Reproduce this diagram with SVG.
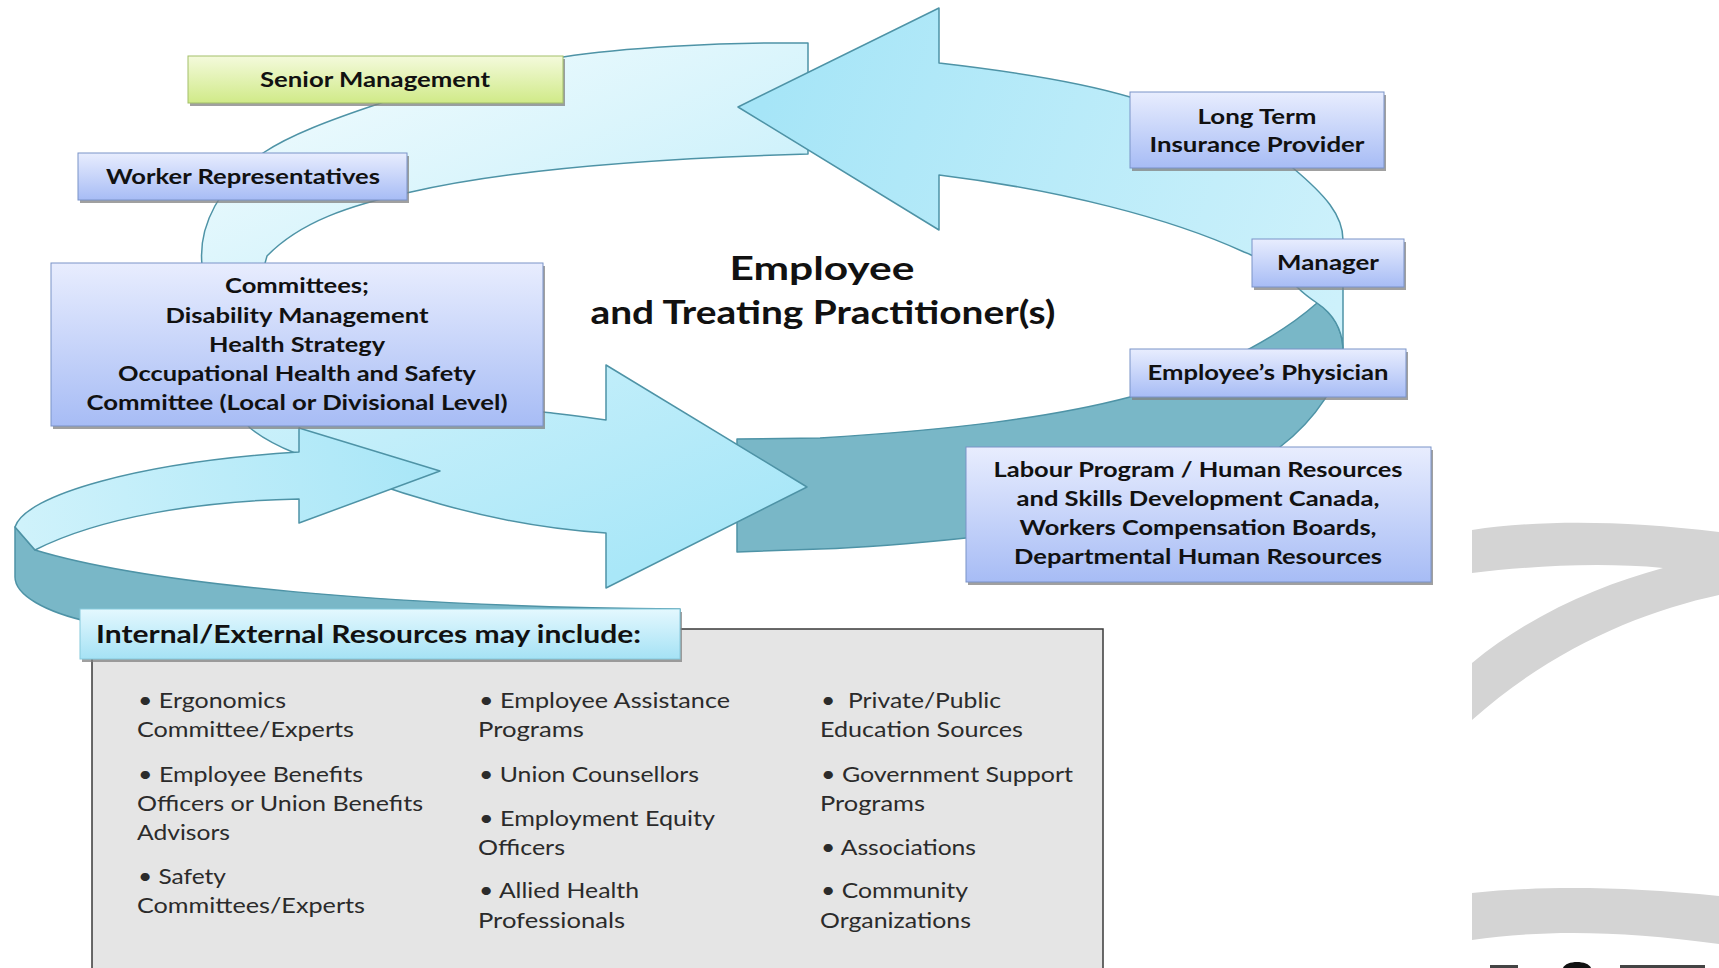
<svg xmlns="http://www.w3.org/2000/svg" width="1719" height="968" viewBox="0 0 1719 968">
<defs>
<linearGradient id="gBlue" x1="0" y1="0" x2="0" y2="1"><stop offset="0" stop-color="#e8edfe"/><stop offset="1" stop-color="#a7bcf5"/></linearGradient>
<linearGradient id="gGreen" x1="0" y1="0" x2="0" y2="1"><stop offset="0" stop-color="#f4fadc"/><stop offset="1" stop-color="#d0ea88"/></linearGradient>
<linearGradient id="gHead" x1="0" y1="0" x2="0" y2="1"><stop offset="0" stop-color="#e4f8fe"/><stop offset="1" stop-color="#a5e2f5"/></linearGradient>
<linearGradient id="gBig" gradientUnits="userSpaceOnUse" x1="450" y1="60" x2="650" y2="560"><stop offset="0" stop-color="#e9f9fd"/><stop offset="1" stop-color="#a9e7f8"/></linearGradient>
<linearGradient id="gTop" gradientUnits="userSpaceOnUse" x1="760" y1="110" x2="1340" y2="300"><stop offset="0" stop-color="#a6e5f7"/><stop offset="1" stop-color="#cdf1fb"/></linearGradient>
<linearGradient id="gSmall" gradientUnits="userSpaceOnUse" x1="20" y1="520" x2="440" y2="470"><stop offset="0" stop-color="#cff2fb"/><stop offset="1" stop-color="#a8e6f7"/></linearGradient>
</defs>
<style>
.band{stroke:#4e93a6;stroke-width:1.5;stroke-linejoin:round}
.teal{fill:#79b7c7}
.box{fill:url(#gBlue);stroke:#7a93c8;stroke-width:1}
.shadow{fill:#808080;opacity:.75}
.lbl{font-family:Lato,"Liberation Sans",sans-serif;font-weight:bold;font-size:21px;fill:#111;text-anchor:middle}
.title{font-family:Lato,"Liberation Sans",sans-serif;font-weight:bold;font-size:32px;fill:#111;text-anchor:middle}
.li{font-family:Lato,"Liberation Sans",sans-serif;font-size:21px;fill:#2b2b2b}
.wm{fill:#d4d4d4}
</style>
<rect width="1719" height="968" fill="#ffffff"/>

<!-- watermark -->
<g id="watermark">
<path class="wm" d="M1472,530 C1540,520 1620,520 1719,532 L1719,595 C1640,612 1550,650 1472,720 L1472,663 C1530,615 1600,585 1663,568 C1600,562 1530,566 1472,573 Z"/>
<path class="wm" d="M1472,893 C1540,886 1620,886 1719,896 L1719,944 C1620,930 1540,930 1472,940 Z"/>
<rect x="1490" y="965" width="28" height="3" fill="#444"/>
<path d="M1563,968 C1566,960 1588,960 1591,968 Z" fill="#111"/>
<rect x="1620" y="965" width="85" height="3" fill="#444"/>
</g>

<g id="connectors">
<!-- teal back band (bottom right) -->
<path class="band teal" d="M737,439 L820,438 C950,430 1050,418 1130,397 C1190,380 1270,345 1317,303 C1335,315 1342,330 1343,348 C1343,380 1315,420 1280,447 C1200,505 1060,530 966,538 C900,545 850,548 820,549 L737,552 Z"/>
<!-- big band with right-pointing arrowhead -->
<path class="band" fill="url(#gBig)" d="M808,43 C720,42 620,48 563,57 C480,70 420,88 378,104 C330,120 290,135 263,153 C220,185 198,225 202,265 C206,330 220,395 250,428 C265,440 280,447 295,453 C340,472 390,490 440,504 C500,521 560,530 606,533 L606,588 L807,487 L606,365 L606,420 C580,416 560,414 543,412 C380,400 240,330 267,256 C300,222 350,205 411,192 C480,176 600,160 808,154 Z"/>
<!-- top band with left-pointing arrowhead -->
<path class="band" fill="url(#gTop)" d="M738,107 L939,8 L939,63 C1000,70 1080,82 1130,97 C1200,115 1270,145 1293,168 C1325,195 1343,215 1343,240 L1343,348 C1342,330 1335,315 1317,303 C1305,295 1300,290 1297,287 C1280,270 1260,258 1244,252 C1170,218 1060,190 939,175 L939,230 Z"/>
<!-- small loop teal side -->
<path class="band teal" d="M15,527 L35,550 C150,585 400,607 680,609 L680,640 L90,622 C45,612 15,595 15,577 Z"/>
<!-- small loop arrow -->
<path class="band" fill="url(#gSmall)" d="M299,452 L299,428 L440,471 L299,523 L299,499 C200,501 100,517 35,550 L15,527 C25,495 140,462 299,452 Z"/>
</g>

<g id="senior-management">
<rect class="shadow" x="190" y="59" width="375" height="47"/>
<rect x="188" y="56" width="375" height="47" fill="url(#gGreen)" stroke="#a3bf6a" stroke-width="1"/>
<text class="lbl" x="375" y="87" textLength="230" lengthAdjust="spacingAndGlyphs">Senior Management</text>
</g>

<g id="worker-representatives">
<rect class="shadow" x="80" y="156" width="329" height="47"/>
<rect class="box" x="78" y="153" width="329" height="47"/>
<text class="lbl" x="243" y="184" textLength="274" lengthAdjust="spacingAndGlyphs">Worker Representatives</text>
</g>

<g id="committees">
<rect class="shadow" x="53" y="266" width="492" height="163"/>
<rect class="box" x="51" y="263" width="492" height="163"/>
<text class="lbl" x="297" y="293" textLength="144" lengthAdjust="spacingAndGlyphs">Committees;</text>
<text class="lbl" x="297" y="323" textLength="263" lengthAdjust="spacingAndGlyphs">Disability Management</text>
<text class="lbl" x="297" y="352" textLength="176" lengthAdjust="spacingAndGlyphs">Health Strategy</text>
<text class="lbl" x="297" y="381" textLength="358" lengthAdjust="spacingAndGlyphs">Occupational Health and Safety</text>
<text class="lbl" x="297" y="410" textLength="421" lengthAdjust="spacingAndGlyphs">Committee (Local or Divisional Level)</text>
</g>

<g id="employee">
<text class="title" x="822" y="280" textLength="185" lengthAdjust="spacingAndGlyphs">Employee</text>
<text class="title" x="823" y="324" textLength="465" lengthAdjust="spacingAndGlyphs">and Treating Practitioner(s)</text>
</g>

<g id="long-term-insurance">
<rect class="shadow" x="1132" y="95" width="254" height="76"/>
<rect class="box" x="1130" y="92" width="254" height="76"/>
<text class="lbl" x="1257" y="124" textLength="119" lengthAdjust="spacingAndGlyphs">Long Term</text>
<text class="lbl" x="1257" y="152" textLength="215" lengthAdjust="spacingAndGlyphs">Insurance Provider</text>
</g>

<g id="manager">
<rect class="shadow" x="1254" y="242" width="152" height="48"/>
<rect class="box" x="1252" y="239" width="152" height="48"/>
<text class="lbl" x="1328" y="270" textLength="102" lengthAdjust="spacingAndGlyphs">Manager</text>
</g>

<g id="employees-physician">
<rect class="shadow" x="1132" y="352" width="276" height="48"/>
<rect class="box" x="1130" y="349" width="276" height="48"/>
<text class="lbl" x="1268" y="380" textLength="241" lengthAdjust="spacingAndGlyphs">Employee’s Physician</text>
</g>

<g id="labour-program">
<rect class="shadow" x="968" y="450" width="465" height="135"/>
<rect class="box" x="966" y="447" width="465" height="135"/>
<text class="lbl" x="1198" y="477" textLength="409" lengthAdjust="spacingAndGlyphs">Labour Program / Human Resources</text>
<text class="lbl" x="1198" y="506" textLength="363" lengthAdjust="spacingAndGlyphs">and Skills Development Canada,</text>
<text class="lbl" x="1198" y="535" textLength="357" lengthAdjust="spacingAndGlyphs">Workers Compensation Boards,</text>
<text class="lbl" x="1198" y="564" textLength="368" lengthAdjust="spacingAndGlyphs">Departmental Human Resources</text>
</g>

<g id="resources">
<rect x="92" y="629" width="1011" height="350" fill="#e5e5e5" stroke="#3a3a3a" stroke-width="1.5"/>
<rect class="shadow" x="82" y="612" width="600" height="50"/>
<rect x="80" y="609" width="600" height="50" fill="url(#gHead)" stroke="#86c9dc" stroke-width="1"/>
<text x="96" y="643" font-family="Lato, 'Liberation Sans', sans-serif" font-weight="bold" font-size="24" fill="#111" textLength="545" lengthAdjust="spacingAndGlyphs">Internal/External Resources may include:</text>

<text class="li" x="138" y="708" textLength="148" lengthAdjust="spacingAndGlyphs">• Ergonomics</text>
<text class="li" x="137" y="737" textLength="217" lengthAdjust="spacingAndGlyphs">Committee/Experts</text>
<text class="li" x="138" y="782" textLength="225" lengthAdjust="spacingAndGlyphs">• Employee Benefits</text>
<text class="li" x="137" y="811" textLength="286" lengthAdjust="spacingAndGlyphs">Officers or Union Benefits</text>
<text class="li" x="137" y="840" textLength="93" lengthAdjust="spacingAndGlyphs">Advisors</text>
<text class="li" x="138" y="884" textLength="88" lengthAdjust="spacingAndGlyphs">• Safety</text>
<text class="li" x="137" y="913" textLength="228" lengthAdjust="spacingAndGlyphs">Committees/Experts</text>

<text class="li" x="479" y="708" textLength="251" lengthAdjust="spacingAndGlyphs">• Employee Assistance</text>
<text class="li" x="478" y="737" textLength="106" lengthAdjust="spacingAndGlyphs">Programs</text>
<text class="li" x="479" y="782" textLength="220" lengthAdjust="spacingAndGlyphs">• Union Counsellors</text>
<text class="li" x="479" y="826" textLength="236" lengthAdjust="spacingAndGlyphs">• Employment Equity</text>
<text class="li" x="478" y="855" textLength="87" lengthAdjust="spacingAndGlyphs">Officers</text>
<text class="li" x="479" y="898" textLength="160" lengthAdjust="spacingAndGlyphs">• Allied Health</text>
<text class="li" x="478" y="928" textLength="147" lengthAdjust="spacingAndGlyphs">Professionals</text>

<text class="li" x="821" y="708" textLength="180" lengthAdjust="spacingAndGlyphs" xml:space="preserve">•  Private/Public</text>
<text class="li" x="820" y="737" textLength="203" lengthAdjust="spacingAndGlyphs">Education Sources</text>
<text class="li" x="821" y="782" textLength="252" lengthAdjust="spacingAndGlyphs">• Government Support</text>
<text class="li" x="820" y="811" textLength="105" lengthAdjust="spacingAndGlyphs">Programs</text>
<text class="li" x="821" y="855" textLength="155" lengthAdjust="spacingAndGlyphs">• Associations</text>
<text class="li" x="821" y="898" textLength="147" lengthAdjust="spacingAndGlyphs">• Community</text>
<text class="li" x="820" y="928" textLength="151" lengthAdjust="spacingAndGlyphs">Organizations</text>
</g>
</svg>
